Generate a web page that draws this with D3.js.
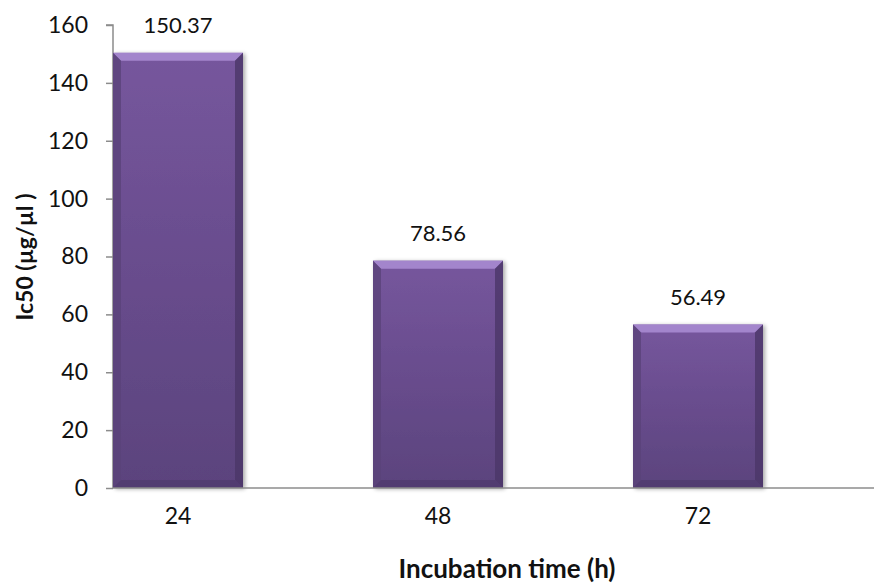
<!DOCTYPE html>
<html>
<head>
<meta charset="utf-8">
<script src="https://cdn.jsdelivr.net/npm/d3@7"></script>
<style>
  html, body { margin: 0; padding: 0; background: #fff; }
  svg { display: block; }
  text { font-family: Lato, "Open Sans", sans-serif; fill: #111; }
</style>
</head>
<body>
<svg id="chart" width="874" height="584"></svg>
<script>
// IC50 by incubation time
const categories = ["24", "48", "72"];
const values = [150.37, 78.56, 56.49];
const yTicks = [0, 20, 40, 60, 80, 100, 120, 140, 160];

const svg = d3.select("#chart");
const plot = { left: 113, right: 874, top: 25, bottom: 488 };
const fontStack = "Lato, 'Open Sans', sans-serif";

const y = d3.scaleLinear().domain([0, 160]).range([plot.bottom, plot.top]);
const x = d3.scaleBand()
  .domain(categories)
  .range([48, 828])
  .paddingInner(0.5)
  .paddingOuter(0.25);

const defs = svg.append("defs");
const body = defs.append("linearGradient").attr("id", "barBody")
  .attr("x1", 0).attr("y1", 0).attr("x2", 0).attr("y2", 1);
body.append("stop").attr("offset", "0%").attr("stop-color", "#76569d");
body.append("stop").attr("offset", "100%").attr("stop-color", "#5b437d");

const shadow = defs.append("filter").attr("id", "shadow")
  .attr("x", "-10%").attr("y", "-10%").attr("width", "125%").attr("height", "125%");
shadow.append("feGaussianBlur").attr("in", "SourceAlpha").attr("stdDeviation", 2);
shadow.append("feOffset").attr("dx", 2).attr("dy", 1).attr("result", "off");
shadow.append("feComponentTransfer").append("feFuncA").attr("type", "linear").attr("slope", 0.35);
const merge = shadow.append("feMerge");
merge.append("feMergeNode");
merge.append("feMergeNode").attr("in", "SourceGraphic");

// y axis
const yAxis = svg.append("g")
  .attr("transform", `translate(${plot.left},0)`)
  .call(d3.axisLeft(y).tickValues(yTicks).tickSize(7).tickPadding(18));
yAxis.select(".domain").attr("stroke", "#8c8c8c").attr("stroke-width", 1.5)
  .attr("d", `M-7,${plot.top}H0V${plot.bottom}`);
yAxis.selectAll(".tick line").attr("stroke", "#8c8c8c").attr("stroke-width", 1.5);
yAxis.selectAll(".tick text").attr("font-size", 23).attr("fill", "#111")
  .style("font-family", fontStack);

// bars
const bev = 8;
const bars = svg.append("g").selectAll("g.bar")
  .data(categories.map((c, i) => ({ c, v: values[i] })))
  .join("g").attr("class", "bar");

bars.append("rect")
  .attr("x", d => x(d.c))
  .attr("y", d => y(d.v))
  .attr("width", x.bandwidth())
  .attr("height", d => plot.bottom - y(d.v))
  .attr("fill", "url(#barBody)")
  .attr("filter", "url(#shadow)");

// bevel edges: light top, darker right and bottom, soft left
bars.append("path")
  .attr("fill", "#a98bd2")
  .attr("opacity", 0.9)
  .attr("d", d => {
    const x0 = x(d.c), x1 = x0 + x.bandwidth(), t = y(d.v);
    return `M${x0},${t}H${x1}L${x1 - bev},${t + bev}H${x0 + bev}Z`;
  });
bars.append("path")
  .attr("fill", "#4b3668")
  .attr("opacity", 0.8)
  .attr("d", d => {
    const x0 = x(d.c), x1 = x0 + x.bandwidth(), t = y(d.v);
    return `M${x1},${t}V${plot.bottom}L${x1 - bev},${plot.bottom - bev}V${t + bev}Z`;
  });
bars.append("path")
  .attr("fill", "#5a4279")
  .attr("opacity", 0.8)
  .attr("d", d => {
    const x0 = x(d.c), t = y(d.v);
    return `M${x0},${t}V${plot.bottom}L${x0 + bev},${plot.bottom - bev}V${t + bev}Z`;
  });
bars.append("path")
  .attr("fill", "#4e3a6c")
  .attr("opacity", 0.7)
  .attr("d", d => {
    const x0 = x(d.c), x1 = x0 + x.bandwidth();
    return `M${x0},${plot.bottom}H${x1}L${x1 - bev},${plot.bottom - bev}H${x0 + bev}Z`;
  });

// value labels
bars.append("text")
  .attr("x", d => x(d.c) + x.bandwidth() / 2)
  .attr("y", d => y(d.v) - 20)
  .attr("text-anchor", "middle")
  .attr("font-size", 22)
  .text(d => d.v.toFixed(2));

// x axis
const xAxis = svg.append("g")
  .attr("transform", `translate(0,${plot.bottom})`)
  .call(d3.axisBottom(x).tickSize(0).tickPadding(20));
xAxis.select(".domain").attr("stroke", "#8c8c8c").attr("stroke-width", 1.5)
  .attr("d", `M${plot.left},0H${plot.right}`);
xAxis.selectAll(".tick text").attr("font-size", 23).attr("fill", "#111")
  .style("font-family", fontStack);

// axis titles
svg.append("text")
  .attr("x", 507).attr("y", 578)
  .attr("text-anchor", "middle")
  .attr("font-size", 26).attr("font-weight", "bold")
  .text("Incubation time (h)");

svg.append("text")
  .attr("transform", "translate(33,257) rotate(-90)")
  .attr("text-anchor", "middle")
  .attr("font-size", 23).attr("font-weight", "bold")
  .text("Ic50 (µg/µl )");
</script>
</body>
</html>
